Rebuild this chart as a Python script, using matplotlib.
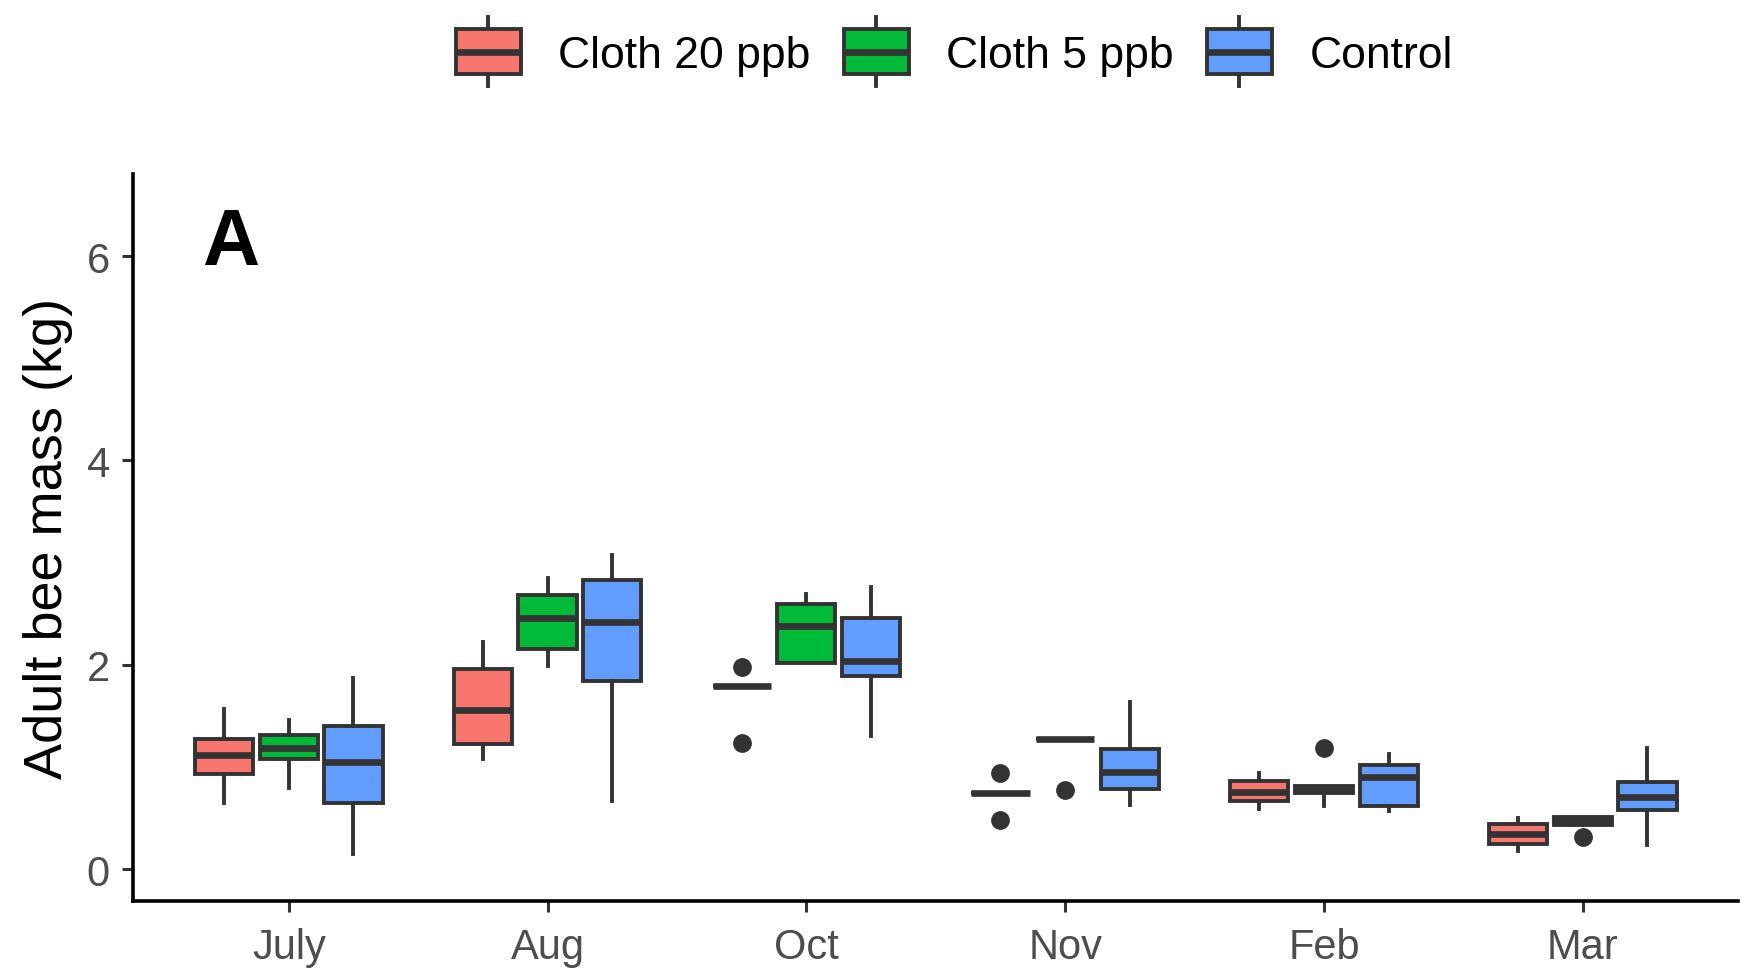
import matplotlib
matplotlib.use("Agg")
import matplotlib.pyplot as plt
from matplotlib.legend_handler import HandlerBase
from matplotlib.lines import Line2D
from matplotlib.patches import Patch, Rectangle
import numpy as np

plt.rcParams['font.family'] = ['Liberation Sans', 'DejaVu Sans']

months = ["July", "Aug", "Oct", "Nov", "Feb", "Mar"]
groups = ["Cloth 20 ppb", "Cloth 5 ppb", "Control"]
colors = ["#F8766D", "#00BA38", "#619CFF"]

# Cloth 20 ppb
c20_lo = [0.65, 1.08, 1.79, 0.75, 0.59, 0.18]
c20_q1 = [0.93, 1.23, 1.79, 0.75, 0.67, 0.25]
c20_med = [1.12, 1.56, 1.79, 0.75, 0.76, 0.345]
c20_q3 = [1.28, 1.96, 1.79, 0.75, 0.86, 0.44]
c20_hi = [1.57, 2.22, 1.79, 0.75, 0.94, 0.50]
c20_out = [[], [], [1.98, 1.24], [0.94, 0.48], [], []]

# Cloth 5 ppb
c5_lo = [0.80, 1.99, 2.02, 1.28, 0.62, 0.43]
c5_q1 = [1.08, 2.16, 2.02, 1.28, 0.745, 0.43]
c5_med = [1.19, 2.46, 2.38, 1.28, 0.78, 0.47]
c5_q3 = [1.31, 2.68, 2.60, 1.28, 0.82, 0.51]
c5_hi = [1.46, 2.85, 2.69, 1.28, 0.82, 0.51]
c5_out = [[], [], [], [0.78], [1.19], [0.32]]

# Control
ctl_lo = [0.15, 0.67, 1.30, 0.63, 0.57, 0.24]
ctl_q1 = [0.65, 1.84, 1.89, 0.79, 0.62, 0.58]
ctl_med = [1.05, 2.42, 2.04, 0.95, 0.90, 0.71]
ctl_q3 = [1.40, 2.83, 2.46, 1.18, 1.02, 0.85]
ctl_hi = [1.87, 3.08, 2.76, 1.64, 1.13, 1.19]
ctl_out = [[], [], [], [], [], []]

series = [
    (c20_lo, c20_q1, c20_med, c20_q3, c20_hi, c20_out),
    (c5_lo, c5_q1, c5_med, c5_q3, c5_hi, c5_out),
    (ctl_lo, ctl_q1, ctl_med, ctl_q3, ctl_hi, ctl_out),
]

EDGE = "#333333"
LW = 2.8
MED_LW = 4.8


class BoxHandler(HandlerBase):
    def create_artists(self, legend, orig_handle, xdescent, ydescent,
                       width, height, fontsize, trans):
        fc = orig_handle.get_facecolor()
        cx = width / 2 - xdescent
        cy = height / 2 - ydescent
        bh = 16
        wh = 25
        whisk = Line2D([cx, cx], [cy - wh, cy + wh], color=EDGE, lw=LW,
                       transform=trans)
        box = Rectangle((-xdescent, cy - bh), width, 2 * bh, facecolor=fc,
                        edgecolor=EDGE, lw=LW, transform=trans)
        med = Line2D([-xdescent, -xdescent + width], [cy, cy], color=EDGE,
                     lw=MED_LW, solid_capstyle='butt', transform=trans)
        return [whisk, box, med]


fig = plt.figure(figsize=(17.45, 9.78), dpi=100)
ax = fig.add_axes([0.0765, 0.0782, 0.9195, 0.7432])

x = np.arange(1, len(months) + 1)
offsets = [-0.25, 0.0, 0.25]
for g, (lo, q1, med, q3, hi, out) in enumerate(series):
    stats = []
    for i in range(len(months)):
        stats.append(dict(whislo=lo[i], q1=q1[i], med=med[i], q3=q3[i],
                          whishi=hi[i], fliers=out[i]))
    ax.bxp(stats, positions=x + offsets[g], widths=0.225, patch_artist=True,
           showcaps=False, manage_ticks=False,
           boxprops=dict(facecolor=colors[g], edgecolor=EDGE, linewidth=LW),
           medianprops=dict(color=EDGE, linewidth=MED_LW,
                            solid_capstyle='butt'),
           whiskerprops=dict(color=EDGE, linewidth=LW),
           flierprops=dict(marker='o', markerfacecolor=EDGE,
                           markeredgecolor=EDGE, markersize=12.5))

ax.set_xlim(0.4, 6.6)
ax.set_ylim(-0.305, 6.806)
ax.set_xticks(x)
ax.set_xticklabels(months)
ax.set_yticks([0, 2, 4, 6])
ax.tick_params(axis='both', labelsize=30, labelcolor='#4D4D4D', color=EDGE,
               length=8, width=2.2)
ax.tick_params(axis='x', pad=11)
ax.tick_params(axis='y', pad=9)
for side in ['top', 'right']:
    ax.spines[side].set_visible(False)
for side in ['left', 'bottom']:
    ax.spines[side].set_linewidth(2.6)
    ax.spines[side].set_color('black')

ax.set_ylabel("Adult bee mass (kg)", fontsize=39, color='black')
ax.yaxis.set_label_coords(-0.038, 0.5)

ax.text(0.665, 5.92, "A", fontsize=57, fontweight='bold', ha='left',
        va='baseline', color='black')

handles = [Patch(facecolor=c, edgecolor=EDGE) for c in colors]
fig.legend(handles, groups, handler_map={Patch: BoxHandler()},
           loc='center', bbox_to_anchor=(0.547, 0.942), ncol=3,
           frameon=False, fontsize=32, handlelength=1.45, handleheight=0.7,
           handletextpad=0.85, columnspacing=0.75)

fig.savefig("out.png", dpi=100, facecolor='white')
